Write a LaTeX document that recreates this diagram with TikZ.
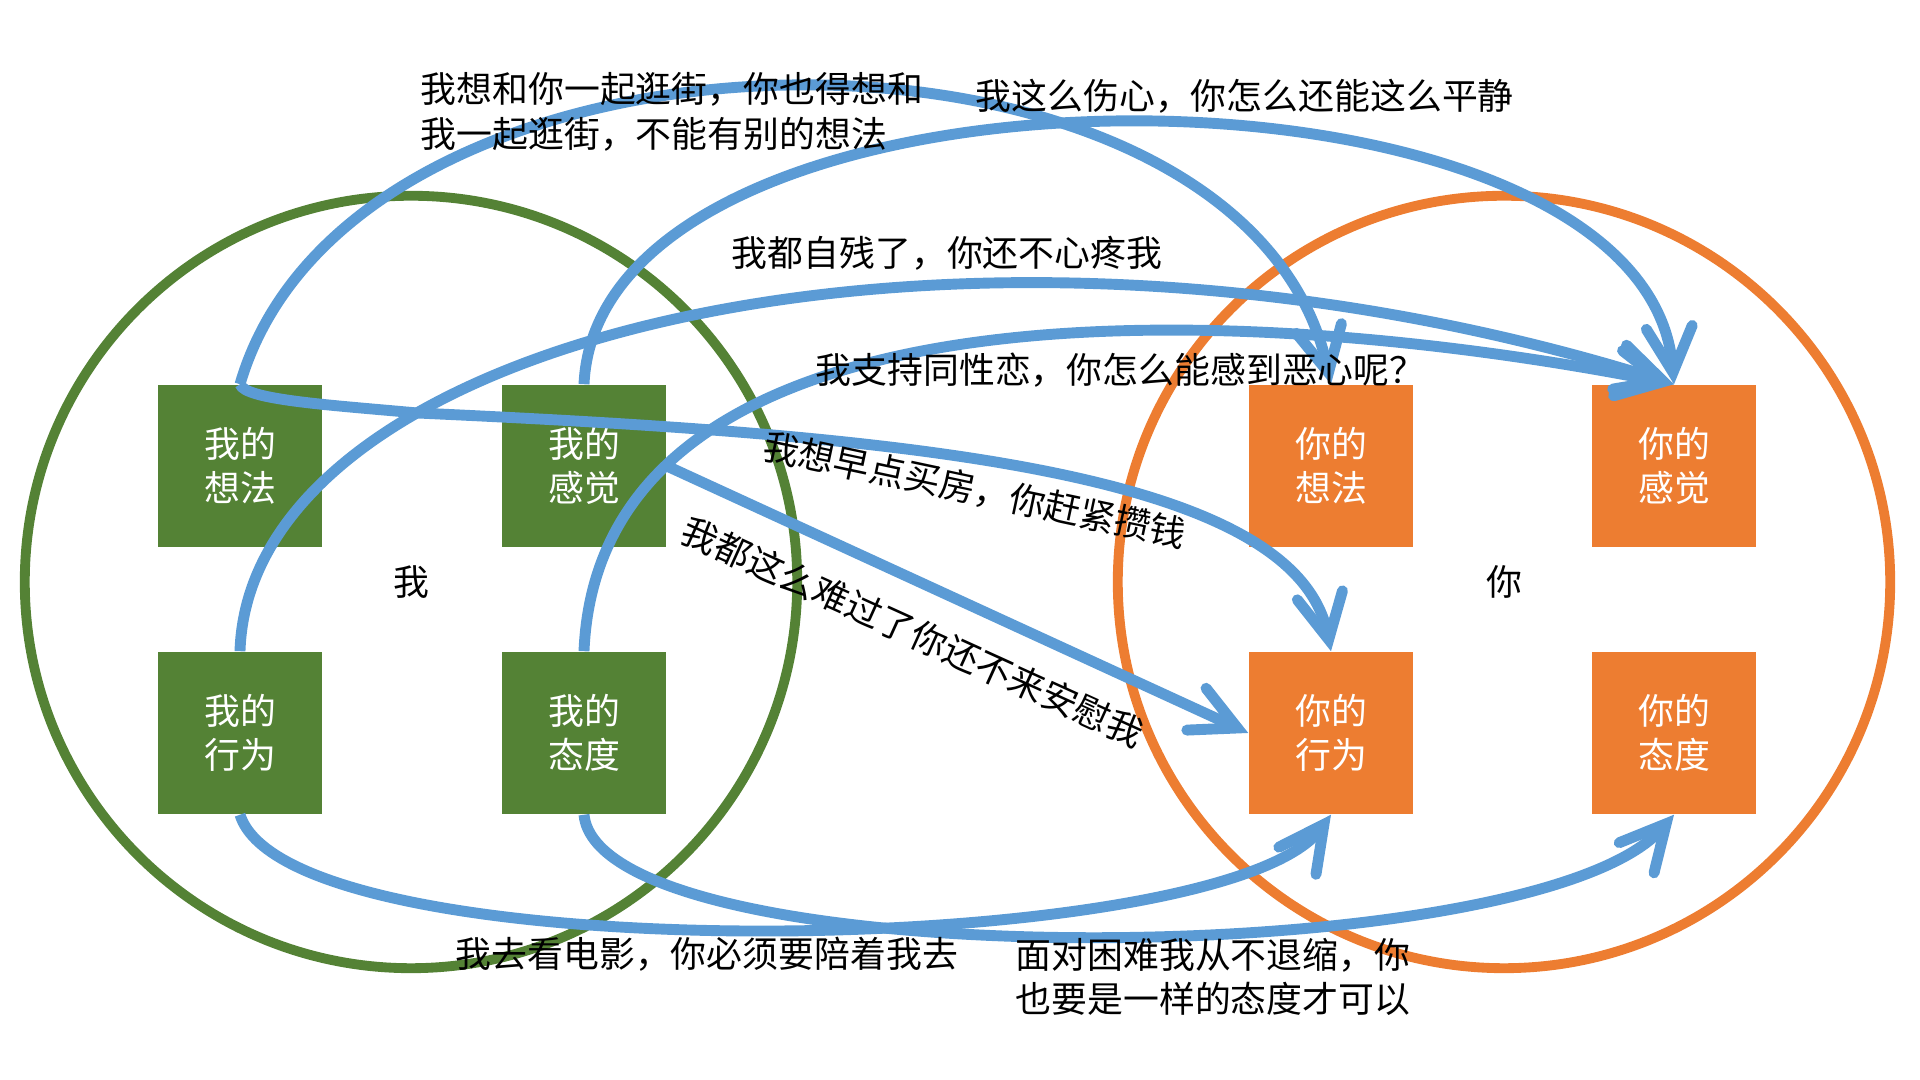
\documentclass[tikz,border=0pt]{standalone}
\usepackage{fontspec}
\setmainfont{Noto Sans CJK SC}
\usetikzlibrary{arrows.meta}
\definecolor{wogreen}{HTML}{548235}
\definecolor{niorange}{HTML}{ED7D31}
\definecolor{relblue}{HTML}{5B9BD5}

\begin{document}
\begin{tikzpicture}[x=0.01cm,y=0.01cm,
  every node/.style={font=\fontsize{10.2}{12.6}\selectfont},
  box/.style={minimum width=1.64cm,minimum height=1.62cm,inner sep=0pt,text=white,align=center},
  wobox/.style={box,fill=wogreen},
  nibox/.style={box,fill=niorange},
  rel/.style={draw=relblue,line width=3.1pt,-{Straight Barb[length=4.5mm,width=4.6mm,line cap=round]}},
  lbl/.style={inner sep=0pt,align=left}]
\def\radius{3.86cm}

\useasboundingbox (0,0) rectangle (1920,1080);

\draw[wogreen,line width=2.8pt] (411,498) circle (\radius);
\draw[niorange,line width=2.8pt] (1504,498) circle (\radius);

\node (wo) at (411,498) {我};
\node (ni) at (1504,498) {你};

\node[wobox] (w1) at (240,614) {我的\\想法};
\node[wobox] (w2) at (584,614) {我的\\感觉};
\node[wobox] (w3) at (240,347) {我的\\行为};
\node[wobox] (w4) at (584,347) {我的\\态度};

\node[nibox] (n1) at (1331,614) {你的\\想法};
\node[nibox] (n2) at (1674,614) {你的\\感觉};
\node[nibox] (n3) at (1331,347) {你的\\行为};
\node[nibox] (n4) at (1674,347) {你的\\态度};

% from the top of my boxes
\draw[rel] (w1.north) .. controls (355,1091) and (1245,1093) .. (n1.north);
\draw[rel] (w1.north) .. controls (245,680) and (330,675) .. (417,667)
                      .. controls (900,645) and (1295,610) .. (n3.north);
\draw[rel] (w2.north) .. controls (600,1044) and (1645,1044) .. (n2.north);
\draw[rel] (w3.north) .. controls (250,750) and (975,915) .. (n2.north);
\draw[rel] (w4.north) .. controls (600,810) and (1245,780) .. (n2.north);
\draw[rel] (w2.east) -- (n3.west);

% from the bottom
\draw[rel] (w3.south) .. controls (290,105) and (1225,120) .. (n3.south);
\draw[rel] (w4.south) .. controls (600,102) and (1535,105) .. (n4.south);

\node[lbl,anchor=west] (lA) at (420,968) {我想和你一起逛街，你也得想和\\我一起逛街，不能有别的想法};
\node[lbl,anchor=west] (lC) at (975,984) {我这么伤心，你怎么还能这么平静};
\node[lbl] (lD) at (947,827) {我都自残了，你还不心疼我};
\node[lbl,anchor=west] (lE) at (815,710) {我支持同性恋，你怎么能感到恶心呢？};
\node[lbl,rotate=-12] (lB) at (975,590) {我想早点买房，你赶紧攒钱};
\node[lbl,rotate=-24.4] (lF) at (913,448) {我都这么难过了你还不来安慰我};
\node[lbl,anchor=west] (lG) at (455,126) {我去看电影，你必须要陪着我去};
\node[lbl,anchor=west] (lH) at (1015,103) {面对困难我从不退缩，你\\也要是一样的态度才可以};

\end{tikzpicture}
\end{document}
